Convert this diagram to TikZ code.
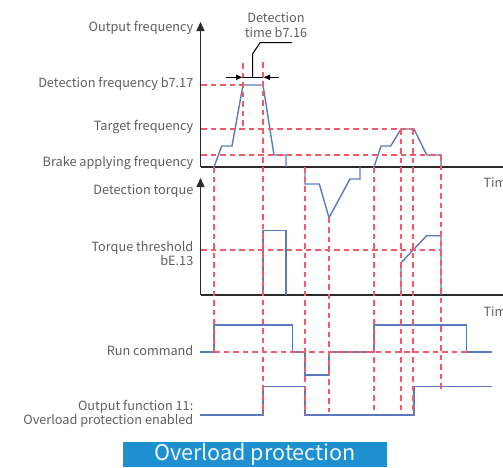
\documentclass[tikz,border=0pt]{standalone}
\usepackage{fontspec}
\setmainfont{Noto Sans CJK SC}
\usetikzlibrary{arrows.meta}
\definecolor{wave}{HTML}{5C79C0}
\definecolor{guide}{HTML}{F45A68}
\definecolor{axisc}{HTML}{2B2B2B}
\definecolor{labelc}{HTML}{5E5E5E}
\definecolor{titlebg}{HTML}{1E8FCF}
\tikzset{
  wavel/.style={draw=wave, line width=1.4pt, line join=miter},
  guidel/.style={draw=guide, line width=1.3pt, dash pattern=on 5.5pt off 4pt},
  axisl/.style={draw=axisc, line width=1.4pt},
  axisarrow/.style={axisl, -{Triangle[length=9pt,width=8pt]}},
  lbl/.style={text=labelc, font=\fontsize{12.7}{14}\selectfont, anchor=east, inner sep=0pt},
  lbl2/.style={lbl, align=right},
  dimarrow/.style={draw=black, line width=1pt, -{Latex[length=7pt,width=6pt]}},
  leader/.style={draw=black, line width=1pt},
}
\begin{document}
\begin{tikzpicture}[x=1pt,y=-1pt]
\useasboundingbox (0,0) rectangle (503,467);
% axes
\coordinate (fo) at (200.5,167);
\coordinate (ftop) at (200.5,22);
\coordinate (fend) at (503,167);
\coordinate (to) at (200.5,295);
\coordinate (ttop) at (200.5,178);
\coordinate (tend) at (503,295);
\draw[axisarrow] (fo) -- (ftop);
\draw[axisl] (fo) -- (fend);
\draw[axisarrow] (to) -- (ttop);
\draw[axisl] (to) -- (tend);

% waveforms
\draw[wavel] (214,167) -- (221.7,146) -- (232,146) -- (243,85) -- (263,85) -- (274,155) -- (286,155) -- (286,167);
\draw[wavel] (374,167) -- (381,146) -- (390.7,146) -- (401,129) -- (414,129) -- (426.7,155) -- (441,155) -- (441,167);
\draw[wavel] (305,167) -- (305,184) -- (319.3,184) -- (329,217.7) -- (350,179) -- (360,179) -- (360,167);
\draw[wavel] (263,295) -- (263,230.7) -- (286,230.7) -- (286,295);
\draw[wavel] (401,295) -- (401,262.7) -- (426.7,235.7) -- (441,235.7) -- (441,295);
\draw[wavel] (200,352) -- (214,352) -- (214,325) -- (292.5,325) -- (292.5,352) -- (305,352) -- (305,375) -- (329,375) -- (329,352) -- (374,352) -- (374,325) -- (466.7,325) -- (466.7,352) -- (491.7,352);
\draw[wavel] (200,415) -- (263,415) -- (263,386.7) -- (305,386.7) -- (305,415) -- (414,415) -- (414,386.7) -- (491.7,386.7);

% guide lines horizontal
\draw[guidel] (201,85) -- (243,85);
\draw[guidel] (201,129) -- (414,129);
\draw[guidel] (201,155) -- (441,155);
\draw[guidel] (201,250) -- (441,250);
\draw[guidel] (214,352) -- (466.7,352);
% guide lines vertical
\draw[guidel] (214,167) -- (214,352);
\draw[guidel] (243,63) -- (243,129);
\draw[guidel] (263,62) -- (263,415);
\draw[guidel] (305,167) -- (305,415);
\draw[guidel] (329,217.7) -- (329,412);
\draw[guidel] (374,167) -- (374,412);
\draw[guidel] (401,129) -- (401,413);
\draw[guidel] (413,129) -- (413,415);
\draw[guidel] (441,155) -- (441,391);

% detection time dimension
\coordinate (dl) at (226,77.3);
\coordinate (dla) at (243,77.3);
\coordinate (dr) at (279,77.3);
\coordinate (dra) at (263,77.3);
\draw[dimarrow] (dl) -- (dla);
\draw[dimarrow] (dr) -- (dra);
\draw[leader] (dla) -- (dra);
\coordinate (lb) at (252.5,77.3);
\coordinate (lk) at (252.5,54);
\coordinate (ld) at (260,42.7);
\coordinate (le) at (292,42.7);
\draw[leader] (lb) -- (lk) -- (ld) -- (le);

% labels
\node[lbl] (lof) at (193.5,28.3) {Output frequency};
\node[lbl] (ldf) at (193.5,83.5) {Detection frequency b7.17};
\node[lbl] (ltf) at (193.5,126.7) {Target frequency};
\node[lbl] (lbf) at (193.5,162.5) {Brake applying frequency};
\node[lbl] (ldt) at (193.5,191.5) {Detection torque};
\node[lbl2] (ltt) at (193.5,253.5) {Torque threshold\\bE.13};
\node[lbl] (lrc) at (193.5,350.7) {Run command};
\node[lbl2] (lout) at (193.5,414) {Output function 11:\\Overload protection enabled};
\node[text=labelc, font=\fontsize{12.7}{15}\selectfont, align=center, inner sep=0pt] (ldtime) at (276,25.5) {Detection\\time b7.16};
\node[text=labelc, font=\fontsize{12.7}{14}\selectfont, anchor=west, inner sep=0pt] (time1) at (483.3,182.5) {Time};
\node[text=labelc, font=\fontsize{12.7}{14}\selectfont, anchor=west, inner sep=0pt] (time2) at (483.3,311.5) {Time};

% title
\node[fill=titlebg, minimum width=264.6pt, minimum height=24.7pt, inner sep=0pt, text=white!92!titlebg, font=\fontsize{21.6}{24}\selectfont] (title) at (255,454.65) {Overload protection};
\end{tikzpicture}
\end{document}
